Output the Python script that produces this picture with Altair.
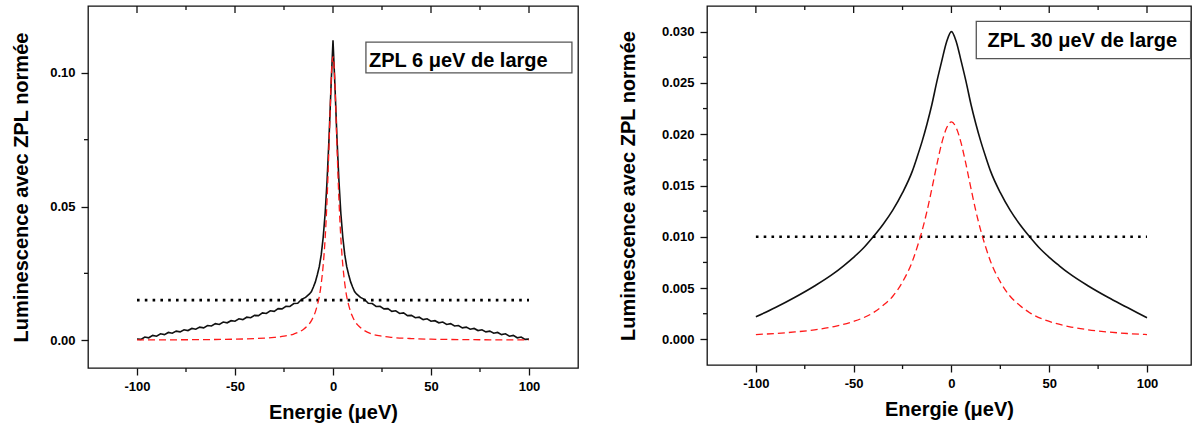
import altair as alt
import pandas as pd

FONT = "Liberation Sans"
INK = "#111111"
RED = "#ff1a1a"

# ---------------- left panel : ZPL 6 ueV wide ----------------
left_total_energy = [
    -100, -98, -96, -94, -92, -90, -88, -86, -84, -82, -80, -78, -76, -74, -72, -70,
    -68, -66, -64, -62, -60, -58, -56, -54, -52, -50, -48, -46, -44, -42, -40, -38,
    -36, -34, -32, -30, -28, -26, -24, -22, -20, -18, -16, -14,
    -13, -12, -11, -10, -9, -8, -7, -6, -5, -4, -3, -2, -1, 0,
    1, 2, 3, 4, 5, 6, 7, 8, 9, 10, 11, 12, 13,
    14, 16, 18, 20, 22, 24, 26, 28, 30, 32, 34, 36, 38, 40, 42, 44, 46, 48, 50, 52,
    54, 56, 58, 60, 62, 64, 66, 68, 70, 72, 74, 76, 78, 80, 82, 84, 86, 88, 90, 92,
    94, 96, 98, 100,
]
left_total_value = [
    0.0004, 0.0003, 0.0012, 0.0009, 0.0018, 0.0015, 0.0024, 0.0021, 0.0029, 0.0026,
    0.0034, 0.0031, 0.0039, 0.0036, 0.0044, 0.0041, 0.0049, 0.0046, 0.0055, 0.0053,
    0.0062, 0.0059, 0.0068, 0.0065, 0.0073, 0.0071, 0.0080, 0.0077, 0.0086, 0.0084,
    0.0093, 0.0092, 0.0102, 0.0100, 0.0110, 0.0108, 0.0118, 0.0117, 0.0127, 0.0126,
    0.0137, 0.0138, 0.0153, 0.0160,
    0.0167, 0.0173, 0.0182, 0.0199, 0.0218, 0.0245, 0.0275, 0.0320, 0.0385, 0.0475,
    0.0600, 0.0760, 0.0950, 0.1122,
    0.0950, 0.0760, 0.0600, 0.0475, 0.0385, 0.0320, 0.0275, 0.0245, 0.0218, 0.0199,
    0.0182, 0.0173, 0.0167,
    0.0160, 0.0153, 0.0138, 0.0137, 0.0126, 0.0127, 0.0117, 0.0118, 0.0108, 0.0110,
    0.0100, 0.0102, 0.0092, 0.0093, 0.0084, 0.0086, 0.0077, 0.0080, 0.0071, 0.0073,
    0.0065, 0.0068, 0.0059, 0.0062, 0.0053, 0.0055, 0.0046, 0.0049, 0.0041, 0.0044,
    0.0036, 0.0039, 0.0031, 0.0034, 0.0026, 0.0029, 0.0021, 0.0024, 0.0015, 0.0018,
    0.0009, 0.0012, 0.0003, 0.0004,
]
left_zpl_energy = [
    -100, -90, -80, -70, -60, -50, -40, -30, -25, -20, -15, -13, -11, -10, -9, -8, -7,
    -6, -5, -4, -3, -2.5, -2, -1.5, -1, -0.5, 0, 0.5, 1, 1.5, 2, 2.5, 3, 4, 5, 6, 7, 8,
    9, 10, 11, 13, 15, 20, 25, 30, 40, 50, 60, 70, 80, 90, 100,
]
left_zpl_value = [
    0.00010, 0.00012, 0.00015, 0.00019, 0.00026, 0.00038, 0.00060, 0.00105, 0.0015,
    0.0023, 0.0041, 0.0054, 0.0073, 0.0088, 0.0106, 0.0131, 0.0163, 0.0212, 0.0281,
    0.0382, 0.0531, 0.0626, 0.0735, 0.0849, 0.0955, 0.1033, 0.1061, 0.1033, 0.0955,
    0.0849, 0.0735, 0.0626, 0.0531, 0.0382, 0.0281, 0.0212, 0.0163, 0.0131, 0.0106,
    0.0088, 0.0073, 0.0054, 0.0041, 0.0023, 0.0015, 0.00105, 0.00060, 0.00038,
    0.00026, 0.00019, 0.00015, 0.00012, 0.00010,
]
left_level = 0.015
left_label = "ZPL 6 μeV de large"
left_y_major = [0, 0.05, 0.1]
left_y_minor = [0.025, 0.075]

# ---------------- right panel : ZPL 30 ueV wide ----------------
right_total_energy = [
    -100, -90, -80, -70, -60, -55, -50, -45, -40, -35, -30, -25, -20, -17.5, -15,
    -12.5, -10, -7.5, -5, -2.5, 0, 2.5, 5, 7.5, 10, 12.5, 15, 17.5, 20, 25, 30, 35,
    40, 45, 50, 55, 60, 70, 80, 90, 100,
]
right_total_value = [
    0.0022, 0.0031, 0.0041, 0.0052, 0.00645, 0.0072, 0.0080, 0.0089, 0.0100, 0.0112,
    0.0126, 0.0143, 0.0164, 0.0178, 0.0193, 0.0210, 0.0229, 0.0251, 0.0271, 0.0290,
    0.0300, 0.0290, 0.0271, 0.0251, 0.0229, 0.0210, 0.0193, 0.0178, 0.0164, 0.0143,
    0.0126, 0.0112, 0.0100, 0.0089, 0.0080, 0.0072, 0.00645, 0.0052, 0.0041, 0.0031,
    0.0021,
]
right_zpl_energy = [
    -100, -90, -80, -70, -60, -50, -40, -35, -30, -25, -20, -17.5, -15, -12.5, -10,
    -7.5, -5, -2.5, 0, 2.5, 5, 7.5, 10, 12.5, 15, 17.5, 20, 25, 30, 35, 40, 50, 60,
    70, 80, 90, 100,
]
right_zpl_value = [
    0.00047, 0.00057, 0.00072, 0.00093, 0.00125, 0.00175, 0.0026, 0.0033, 0.0042,
    0.0056, 0.0076, 0.0090, 0.0106, 0.0125, 0.0147, 0.0170, 0.0191, 0.0206, 0.0212,
    0.0206, 0.0191, 0.0170, 0.0147, 0.0125, 0.0106, 0.0090, 0.0076, 0.0056, 0.0042,
    0.0033, 0.0026, 0.00175, 0.00125, 0.00093, 0.00072, 0.00057, 0.00047,
]
right_level = 0.010
right_label = "ZPL 30 μeV de large"
right_y_major = [0, 0.005, 0.01, 0.015, 0.02, 0.025, 0.03]
right_y_minor = [0.0025, 0.0075, 0.0125, 0.0175, 0.0225, 0.0275]

# shared tick values / ranges
x_major = [-100, -50, 0, 50, 100]
x_minor = [-75, -25, 25, 75]
level_span = [-100, 100]

MAJ = 7
MIN = 4


def panel(tot_e, tot_v, zpl_e, zpl_v, level, label, box, text_pos,
          xdom, ydom, y_major, y_minor, fmt, w, h, interp_total, title_pad):
    xs = alt.Scale(domain=xdom, nice=False, zero=False)
    ys = alt.Scale(domain=ydom, nice=False, zero=False)

    x_axis = alt.Axis(
        values=x_major, labelExpr="'' + datum.value",
        tickSize=MAJ, tickColor=INK, tickWidth=1.3, domain=False, grid=False,
        labelFont=FONT, labelFontSize=13, labelFontWeight="bold", labelColor="#000",
        labelPadding=5, labelOverlap=False,
        title="Energie (μeV)", titleFont=FONT, titleFontSize=20,
        titleFontWeight="bold", titleColor="#000", titlePadding=9,
    )
    y_axis = alt.Axis(
        values=y_major, format=fmt,
        tickSize=MAJ, tickColor=INK, tickWidth=1.3, domain=False, grid=False,
        labelFont=FONT, labelFontSize=13, labelFontWeight="bold", labelColor="#000",
        labelPadding=6, labelOverlap=False,
        title="Luminescence avec ZPL normée", titleFont=FONT, titleFontSize=20,
        titleFontWeight="bold", titleColor="#000", titlePadding=title_pad,
    )

    total = pd.DataFrame({"E": tot_e, "v": tot_v})
    zpl = pd.DataFrame({"E": zpl_e, "v": zpl_v})
    lvl = pd.DataFrame({"E": [level_span[0]], "E2": [level_span[1]], "v": [level]})
    boxdf = pd.DataFrame({"E": [box[0]], "E2": [box[1]], "v": [box[2]], "v2": [box[3]]})
    txt = pd.DataFrame({"E": [text_pos[0]], "v": [text_pos[1]], "t": [label]})
    xmaj = pd.DataFrame({"E": x_major})
    xmin = pd.DataFrame({"E": x_minor})
    ymin = pd.DataFrame({"v": y_minor})

    base_line = alt.Chart(total).mark_line(
        color=INK, strokeWidth=1.6, interpolate=interp_total
    ).encode(
        x=alt.X("E:Q", scale=xs, axis=x_axis),
        y=alt.Y("v:Q", scale=ys, axis=y_axis),
    )
    red_line = alt.Chart(zpl).mark_line(
        color=RED, strokeWidth=1.3, strokeDash=[7, 4], interpolate="monotone"
    ).encode(x=alt.X("E:Q", scale=xs), y=alt.Y("v:Q", scale=ys))
    dotted = alt.Chart(lvl).mark_rule(
        color="#000", strokeWidth=2.6, strokeDash=[2.6, 5.2], strokeCap="butt"
    ).encode(x=alt.X("E:Q", scale=xs), x2="E2:Q", y=alt.Y("v:Q", scale=ys))
    rect = alt.Chart(boxdf).mark_rect(
        fill="white", stroke="#555555", strokeWidth=1.3
    ).encode(
        x=alt.X("E:Q", scale=xs), x2="E2:Q",
        y=alt.Y("v:Q", scale=ys), y2="v2:Q",
    )
    text = alt.Chart(txt).mark_text(
        align="left", baseline="alphabetic", font=FONT, fontSize=20,
        fontWeight="bold", color="#000"
    ).encode(x=alt.X("E:Q", scale=xs), y=alt.Y("v:Q", scale=ys), text="t:N")

    # top frame ticks (inward)
    tmaj = alt.Chart(xmaj).mark_rule(color=INK, strokeWidth=1.3).encode(
        x=alt.X("E:Q", scale=xs), y=alt.value(0), y2=alt.value(MAJ)
    )
    tmin = alt.Chart(xmin).mark_rule(color=INK, strokeWidth=1.3).encode(
        x=alt.X("E:Q", scale=xs), y=alt.value(0), y2=alt.value(MIN)
    )
    # bottom minor ticks (outward)
    bmin = alt.Chart(xmin).mark_rule(color=INK, strokeWidth=1.3).encode(
        x=alt.X("E:Q", scale=xs), y=alt.value(h), y2=alt.value(h + MIN)
    )
    # left minor ticks (outward)
    lmin = alt.Chart(ymin).mark_rule(color=INK, strokeWidth=1.3).encode(
        y=alt.Y("v:Q", scale=ys), x=alt.value(-MIN), x2=alt.value(0)
    )
    return alt.layer(
        base_line, rect, text, dotted, red_line, tmaj, tmin, bmin, lmin
    ).properties(width=w, height=h)


left = panel(
    left_total_energy, left_total_value, left_zpl_energy, left_zpl_value,
    left_level, left_label,
    box=(16.8, 121.9, 0.1115, 0.1000), text_pos=(18.4, 0.1022),
    xdom=[-125, 125], ydom=[-0.0104, 0.125], y_major=left_y_major,
    y_minor=left_y_minor, fmt=".2f", w=490, h=362, interp_total="linear",
    title_pad=18,
)
right = panel(
    right_total_energy, right_total_value, right_zpl_energy, right_zpl_value,
    right_level, right_label,
    box=(12.7, 122.3, 0.03101, 0.02736), text_pos=(18.4, 0.0285),
    xdom=[-125, 122.5], ydom=[-0.0025, 0.0325], y_major=right_y_major,
    y_minor=right_y_minor, fmt=".3f", w=484, h=359, interp_total="monotone",
    title_pad=23,
)

chart = alt.hconcat(left, right, spacing=129, bounds="flush").properties(
    padding={"left": 11, "top": 4, "right": 0, "bottom": 0},
    background="white",
).configure_view(stroke=INK, strokeWidth=1.3)

chart.save("out.html", embed_options={"renderer": "svg", "actions": False})
